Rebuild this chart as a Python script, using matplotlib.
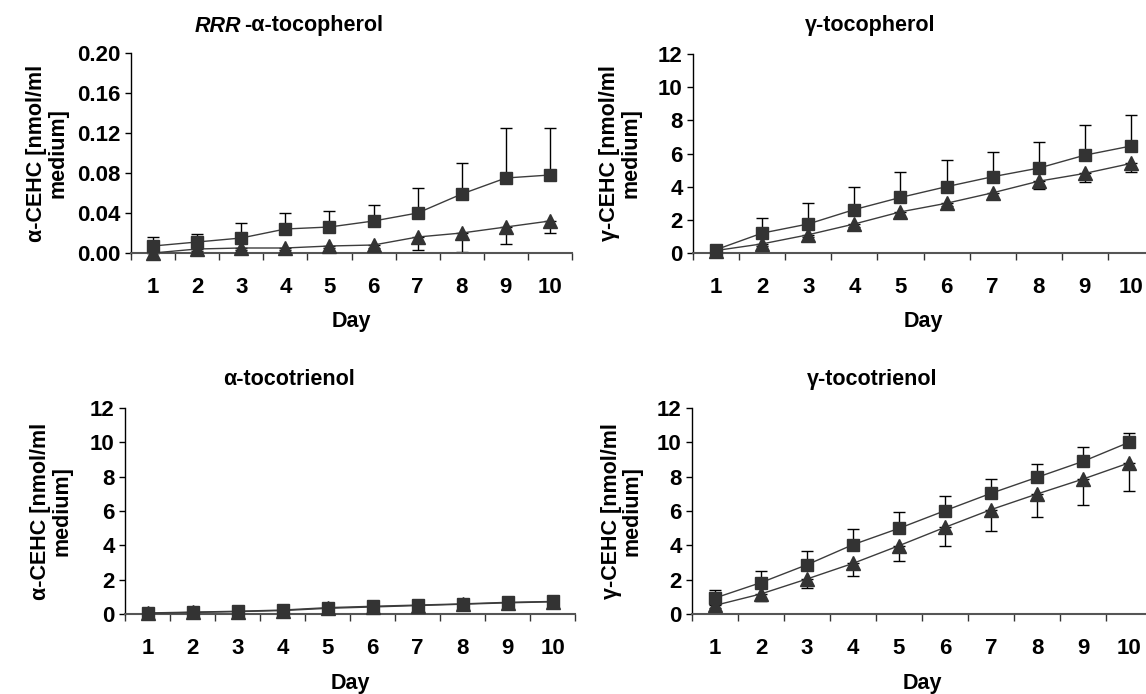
import matplotlib
matplotlib.use("Agg")
import matplotlib.pyplot as plt
import numpy as np

plt.rcParams['font.family'] = ['Liberation Sans', 'DejaVu Sans']
plt.rcParams['font.weight'] = 'bold'

days = [1, 2, 3, 4, 5, 6, 7, 8, 9, 10]
day_labels = ["1", "2", "3", "4", "5", "6", "7", "8", "9", "10"]

# Panel 1: RRR-alpha-tocopherol
rrr_sq = [0.007, 0.011, 0.015, 0.024, 0.026, 0.032, 0.040, 0.059, 0.075, 0.078]
rrr_sq_err = [0.009, 0.008, 0.015, 0.016, 0.016, 0.016, 0.025, 0.031, 0.050, 0.047]
rrr_tri = [0.000, 0.004, 0.005, 0.005, 0.007, 0.008, 0.016, 0.020, 0.026, 0.032]
rrr_tri_err = [0.000, 0.002, 0.002, 0.002, 0.002, 0.003, 0.013, 0.019, 0.017, 0.012]

# Panel 2: gamma-tocopherol
gt_sq = [0.2, 1.2, 1.75, 2.62, 3.35, 4.0, 4.6, 5.12, 5.9, 6.45]
gt_sq_err = [0.2, 0.9, 1.25, 1.38, 1.55, 1.58, 1.5, 1.55, 1.8, 1.85]
gt_tri = [0.15, 0.55, 1.1, 1.75, 2.48, 3.0, 3.63, 4.33, 4.8, 5.4]
gt_tri_err = [0.05, 0.1, 0.15, 0.2, 0.35, 0.15, 0.4, 0.5, 0.5, 0.5]

# Panel 3: alpha-tocotrienol
at_sq = [0.06, 0.11, 0.16, 0.23, 0.37, 0.45, 0.52, 0.59, 0.68, 0.73]
at_sq_err = [0.05, 0.05, 0.05, 0.05, 0.05, 0.05, 0.05, 0.05, 0.05, 0.05]
at_tri = [0.04, 0.09, 0.14, 0.20, 0.33, 0.41, 0.49, 0.57, 0.65, 0.71]
at_tri_err = [0.03, 0.03, 0.03, 0.03, 0.03, 0.03, 0.03, 0.03, 0.03, 0.03]

# Panel 4: gamma-tocotrienol
gtt_sq = [0.93, 1.83, 2.87, 4.04, 4.99, 6.02, 7.03, 7.96, 8.89, 10.0]
gtt_sq_err = [0.47, 0.69, 0.78, 0.91, 0.97, 0.87, 0.85, 0.8, 0.86, 0.54]
gtt_tri = [0.5, 1.17, 2.04, 2.95, 3.98, 5.05, 6.08, 6.99, 7.86, 8.8]
gtt_tri_err = [0.15, 0.43, 0.53, 0.72, 0.88, 1.09, 1.25, 1.36, 1.49, 1.65]

titles = ["-\u03b1-tocopherol", "\u03b3-tocopherol", "\u03b1-tocotrienol", "\u03b3-tocotrienol"]
ylabels = ["\u03b1-CEHC [nmol/ml\nmedium]", "\u03b3-CEHC [nmol/ml\nmedium]",
           "\u03b1-CEHC [nmol/ml\nmedium]", "\u03b3-CEHC [nmol/ml\nmedium]"]
xlabel = "Day"

W, H = 1146, 694
fig = plt.figure(figsize=(W / 100, H / 100), dpi=100)

def fx(x):
    return x / W

def fy(y):
    return 1 - y / H

layouts = [
    dict(box=(131, 572, 53, 253), tx=289, ylx=47, ty=26, dy=322),
    dict(box=(693, 1154, 54, 253), tx=870, ylx=620, ty=25, dy=322),
    dict(box=(125, 575, 408, 614), tx=289, ylx=51, ty=380, dy=684),
    dict(box=(692, 1152, 408, 614), tx=872, ylx=622, ty=380, dy=684),
]

data = [
    (rrr_sq, rrr_sq_err, rrr_tri, rrr_tri_err, (0, 0.20), [0, 0.04, 0.08, 0.12, 0.16, 0.20], "%.2f"),
    (gt_sq, gt_sq_err, gt_tri, gt_tri_err, (0, 12), [0, 2, 4, 6, 8, 10, 12], "%d"),
    (at_sq, at_sq_err, at_tri, at_tri_err, (0, 12), [0, 2, 4, 6, 8, 10, 12], "%d"),
    (gtt_sq, gtt_sq_err, gtt_tri, gtt_tri_err, (0, 12), [0, 2, 4, 6, 8, 10, 12], "%d"),
]

mcol = "#333333"
lcol = "#3c3c3c"
fs_tick = 16
fs_lab = 15.5

for i, (lay, d) in enumerate(zip(layouts, data)):
    l, r, t, b = lay["box"]
    ax = fig.add_axes([fx(l), fy(b), (r - l) / W, (b - t) / H])
    sq, sqe, tri, trie, ylim, yt, fmt = d
    zeros = [0] * len(days)
    ax.errorbar(days, tri, yerr=[trie, zeros], fmt='none', ecolor='black',
                elinewidth=1, capsize=4.5, capthick=1, zorder=2, clip_on=False)
    ax.errorbar(days, sq, yerr=[zeros, sqe], fmt='none', ecolor='black',
                elinewidth=1, capsize=4.5, capthick=1, zorder=2, clip_on=False)
    ax.plot(days, tri, color=lcol, lw=1, marker='^', ms=10.5, mfc=mcol, mec=mcol,
            zorder=3, clip_on=False)
    ax.plot(days, sq, color=lcol, lw=1, marker='s', ms=9, mfc=mcol, mec=mcol,
            zorder=4, clip_on=False)
    ax.set_xlim(0.5, 10.5)
    ax.set_ylim(*ylim)
    ax.set_yticks(yt)
    ax.set_yticklabels([fmt % v for v in yt], fontsize=fs_tick, fontweight='bold')
    ax.set_xticks(days)
    ax.set_xticklabels(day_labels, fontsize=fs_tick, fontweight='bold')
    ax.set_xticks(np.arange(0.5, 10.6, 1.0), minor=True)
    ax.tick_params(axis='x', which='major', length=0, pad=17)
    ax.tick_params(axis='x', which='minor', length=5, width=1, direction='out', color='#333333')
    ax.tick_params(axis='y', which='major', length=4.5, width=1, direction='out', pad=3)
    for s in ['top', 'right']:
        ax.spines[s].set_visible(False)
    ax.spines['left'].set_color('black')
    ax.spines['left'].set_linewidth(1)
    ax.spines['bottom'].set_color('#555555')
    ax.spines['bottom'].set_linewidth(1.5)
    ax.patch.set_alpha(0)

    fig.text(fx((l + r) / 2), fy(lay["dy"]), xlabel, ha='center', va='center',
             fontsize=fs_lab, fontweight='bold')
    fig.text(fx(lay["ylx"]), fy((t + b) / 2), ylabels[i], rotation=90, ha='center',
             va='center', multialignment='center', linespacing=1.0,
             fontsize=fs_lab, fontweight='bold')
    if i == 0:
        t1 = fig.text(0, 0, "RRR", fontsize=fs_lab, fontweight='bold', fontstyle='italic',
                      ha='left', va='center')
        t2 = fig.text(0, 0, titles[0], fontsize=fs_lab, fontweight='bold',
                      ha='left', va='center')
        rend = fig.canvas.get_renderer()
        w1 = t1.get_window_extent(rend).width + 3
        w2 = t2.get_window_extent(rend).width
        x0 = lay["tx"] - (w1 + w2) / 2
        t1.set_position((fx(x0), fy(lay["ty"])))
        t2.set_position((fx(x0 + w1), fy(lay["ty"])))
    else:
        fig.text(fx(lay["tx"]), fy(lay["ty"]), titles[i], ha='center', va='center',
                 fontsize=fs_lab, fontweight='bold')

fig.savefig("out.png", dpi=100)
